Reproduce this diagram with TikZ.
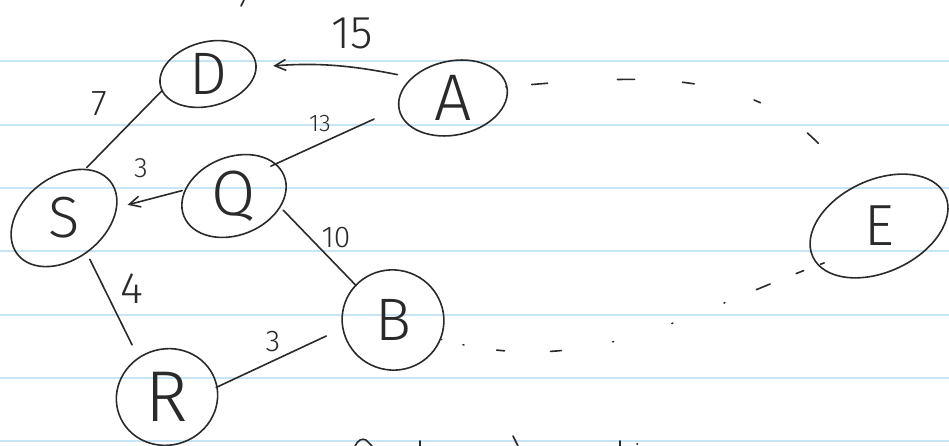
\documentclass[tikz,border=0pt]{standalone}
\usepackage{fontspec}
\newfontfamily\hand{Fira Sans}[UprightFont={* Light}]
\usetikzlibrary{shapes.geometric,arrows.meta}
\definecolor{inkc}{HTML}{2A2A2A}
\definecolor{rulec}{HTML}{C8E5F8}
\begin{document}
\begin{tikzpicture}[x=1pt,y=1pt,
  ink/.style={draw=inkc, line width=1.6pt, line cap=round, line join=round},
  ring/.style={ink},
  vtx/.style={ellipse, inner sep=0pt, text=inkc},
  big/.style={font=\hand\fontsize{#1}{#1}\selectfont},
  lbl/.style={inner sep=0pt, text=inkc, font=\hand\fontsize{#1}{#1}\selectfont},
  arr/.style={ink, -{Straight Barb[length=11pt,width=11pt,line width=1.6pt]}},
  rule/.style={draw=rulec, line width=1.8pt}]
\useasboundingbox[fill=white] (0,0) rectangle (949,-446);
% ruled paper
\foreach \k in {0,...,6} {
  \draw[rule] (0,{-61.3-63.33*\k}) -- (949,{-61.3-63.33*\k});
}
% vertices
\node[vtx, minimum width=96pt, minimum height=66pt, big=60] (D) at (208,-74) {D};
\node[vtx, minimum width=110pt, minimum height=76pt, big=66] (A) at (453,-98) {A};
\node[vtx, minimum width=104pt, minimum height=84pt, big=64] (Q) at (234,-196) {Q};
\node[vtx, minimum width=106pt, minimum height=94pt, big=58] (S) at (64,-218) {S};
\node[vtx, minimum width=106pt, minimum height=96pt, big=60] (B) at (393,-320) {B};
\node[vtx, minimum width=100pt, minimum height=96pt, big=72] (R) at (167,-397) {R};
\node[vtx, minimum width=136pt, minimum height=104pt, big=58] (E) at (879,-226) {E};
% hand drawn rings
\draw[ring, rotate around={15:(D.center)}] (D.center) ellipse [x radius=49pt, y radius=32pt];
\draw[ring, rotate around={12:(A.center)}] (A.center) ellipse [x radius=55pt, y radius=37pt];
\draw[ring, rotate around={22:(Q.center)}] (Q.center) ellipse [x radius=54pt, y radius=39pt];
\draw[ring, rotate around={38:(S.center)}] (S.center) ellipse [x radius=59pt, y radius=41pt];
\draw[ring, rotate around={70:(B.center)}] (B.center) ellipse [x radius=50pt, y radius=51pt];
\draw[ring, rotate around={20:(R.center)}] (R.center) ellipse [x radius=51pt, y radius=48pt];
\draw[ring, rotate around={25:(E.center)}] (E.center) ellipse [x radius=73pt, y radius=46pt];
% edges
\draw[ink, shorten <=8pt, shorten >=4pt] (S.69) -- (D.198);
\draw[arr, shorten <=10pt, shorten >=18pt] (A.155) to[bend right=8] (D.8);
\draw[ink, shorten <=28pt] (A.190) -- (Q.39);
\draw[arr, shorten >=12pt] (Q.174) -- (S.11);
\draw[ink] (Q.-16) -- (B.137);
\draw[ink, shorten >=14pt] (S.-58) -- (R.126);
\draw[ink, shorten >=16pt] (R.11) -- (B.190);
% dotted connectors
\draw[ink, dash pattern=on 0pt off 26pt on 16pt off 70pt on 17pt off 48pt on 12pt off 62pt on 7pt off 56pt on 15pt off 200pt]
  (A.12) to[out=5, in=122] (E.125);
\draw[ink, dash pattern=on 0pt off 22pt on 1pt off 33pt on 8pt off 46pt on 11pt off 52pt on 1pt off 61pt on 1pt off 55pt on 1pt off 34pt on 15pt off 28pt on 8pt off 18pt on 4pt off 200pt]
  (B.-22) to[out=-15, in=200] (E.215);
% weights
\node[lbl=36] (w7) at (99,-104) {7};
\node[lbl=46] (w15) at (352,-33) {15};
\node[lbl=24] (w13) at (320,-124) {13};
\node[lbl=28] (w3a) at (141,-168) {3};
\node[lbl=30] (w10) at (336,-238) {10};
\node[lbl=44] (w4) at (132,-289) {4};
\node[lbl=30] (w3b) at (273,-342) {3};
% cut-off strokes at the edges
\draw[ink] (244,0) -- (241,-6);
\draw[ink] (355,-446) .. controls (358,-440) and (362,-438) .. (366,-440) -- (372,-446);
\draw[ink] (420,-441) -- (420,-446);
\draw[ink] (513,-436) -- (518,-446);
\draw[ink] (620,-441) -- (620,-446);
\draw[ink] (637,-444) -- (637.5,-444);
\end{tikzpicture}
\end{document}
